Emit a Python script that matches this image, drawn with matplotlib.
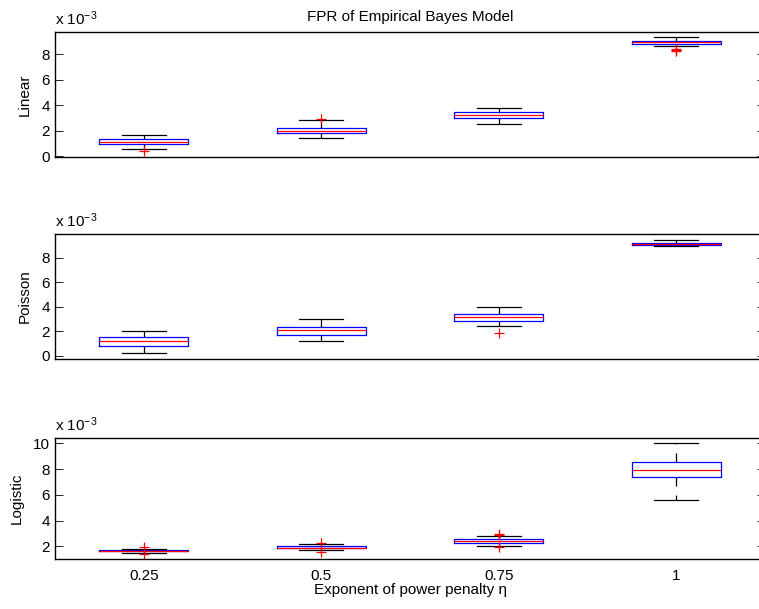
import matplotlib
matplotlib.use("Agg")
import matplotlib.pyplot as plt

plt.rcParams['font.family'] = ['Liberation Sans', 'DejaVu Sans']
plt.rcParams['mathtext.fontset'] = 'custom'
plt.rcParams['mathtext.rm'] = 'Liberation Sans'
plt.rcParams['mathtext.it'] = 'Liberation Sans:italic'
plt.rcParams['lines.scale_dashes'] = False

# values are in units of 1e-3
exponents = ['0.25', '0.5', '0.75', '1']
models = ['Linear', 'Poisson', 'Logistic']

linear_q1 = [0.96, 1.80, 2.98, 8.82]
linear_med = [1.10, 2.00, 3.20, 8.94]
linear_q3 = [1.34, 2.20, 3.45, 9.04]
linear_lo = [0.60, 1.43, 2.51, 8.63]
linear_hi = [1.70, 2.82, 3.81, 9.32]
linear_out = [[0.44], [2.92], [], [8.45, 8.35, 8.25]]

poisson_q1 = [0.79, 1.69, 2.81, 9.04]
poisson_med = [1.20, 2.10, 3.13, 9.14]
poisson_q3 = [1.53, 2.32, 3.38, 9.22]
poisson_lo = [0.20, 1.20, 2.40, 8.93]
poisson_hi = [2.00, 3.02, 4.00, 9.42]
poisson_out = [[], [], [1.88], []]

logistic_q1 = [1.62, 1.84, 2.28, 7.36]
logistic_med = [1.66, 1.90, 2.41, 7.90]
logistic_q3 = [1.72, 2.05, 2.54, 8.57]
logistic_lo = [1.50, 1.69, 2.02, 5.60]
logistic_hi = [1.81, 2.20, 2.82, 10.00]
logistic_out = [[1.92, 1.38], [2.28, 1.58], [2.98, 2.90, 1.92], []]

ylims = [(-0.02, 9.75), (-0.25, 9.93), (0.99, 10.43)]
yticks = [[0, 2, 4, 6, 8], [0, 2, 4, 6, 8], [2, 4, 6, 8, 10]]

# axes rectangles in figure fractions (MATLAB-like layout, right edge runs off the canvas)
rects = [
    (55 / 759, 1 - 156.5 / 609, 710 / 759, 124.5 / 609),
    (55 / 759, 1 - 359 / 609, 710 / 759, 125 / 609),
    (55 / 759, 1 - 559.3 / 609, 710 / 759, 121.6 / 609),
]

FS = 11


def make_stats(q1, med, q3, lo, hi, out):
    stats = []
    for i in range(len(q1)):
        stats.append({'q1': q1[i], 'med': med[i], 'q3': q3[i],
                      'whislo': lo[i], 'whishi': hi[i], 'fliers': out[i]})
    return stats


all_stats = [
    make_stats(linear_q1, linear_med, linear_q3, linear_lo, linear_hi, linear_out),
    make_stats(poisson_q1, poisson_med, poisson_q3, poisson_lo, poisson_hi, poisson_out),
    make_stats(logistic_q1, logistic_med, logistic_q3, logistic_lo, logistic_hi, logistic_out),
]

fig = plt.figure(figsize=(7.59, 6.09), dpi=100)

for k in range(3):
    ax = fig.add_axes(rects[k])
    ax.bxp(all_stats[k], positions=[1, 2, 3, 4], widths=0.5,
           boxprops=dict(color='blue', linewidth=0.9),
           medianprops=dict(color='red', linewidth=0.9),
           whiskerprops=dict(color='black', linewidth=0.9, linestyle=(0, (6.5, 6.5))),
           capprops=dict(color='black', linewidth=0.9),
           capwidths=0.25,
           flierprops=dict(marker='+', markeredgecolor='red', markersize=7,
                           markeredgewidth=0.9, linestyle='none'))
    ax.set_xlim(0.5, 4.5)
    ax.set_ylim(*ylims[k])
    ax.set_yticks(yticks[k])
    ax.set_yticklabels([str(t) for t in yticks[k]])
    ax.tick_params(axis='y', direction='in', length=6, width=0.6, pad=3.5,
                   labelsize=FS, right=True)
    ax.tick_params(axis='x', length=0, pad=7, labelsize=FS)
    for s in ax.spines.values():
        s.set_linewidth(1.0)
    ax.set_ylabel(models[k], fontsize=FS, labelpad=7)
    ax.text(0, 1.03, r'x 10$^{-3}$', transform=ax.transAxes, fontsize=FS,
            ha='left', va='bottom')
    if k == 2:
        ax.set_xticks([1, 2, 3, 4])
        ax.set_xticklabels(exponents)
        ax.set_xlabel('Exponent of power penalty η', fontsize=FS, labelpad=0)
    else:
        ax.set_xticks([])
    if k == 0:
        ax.set_title('FPR of Empirical Bayes Model', fontsize=FS, pad=8)

fig.savefig('out.png', dpi=100)
